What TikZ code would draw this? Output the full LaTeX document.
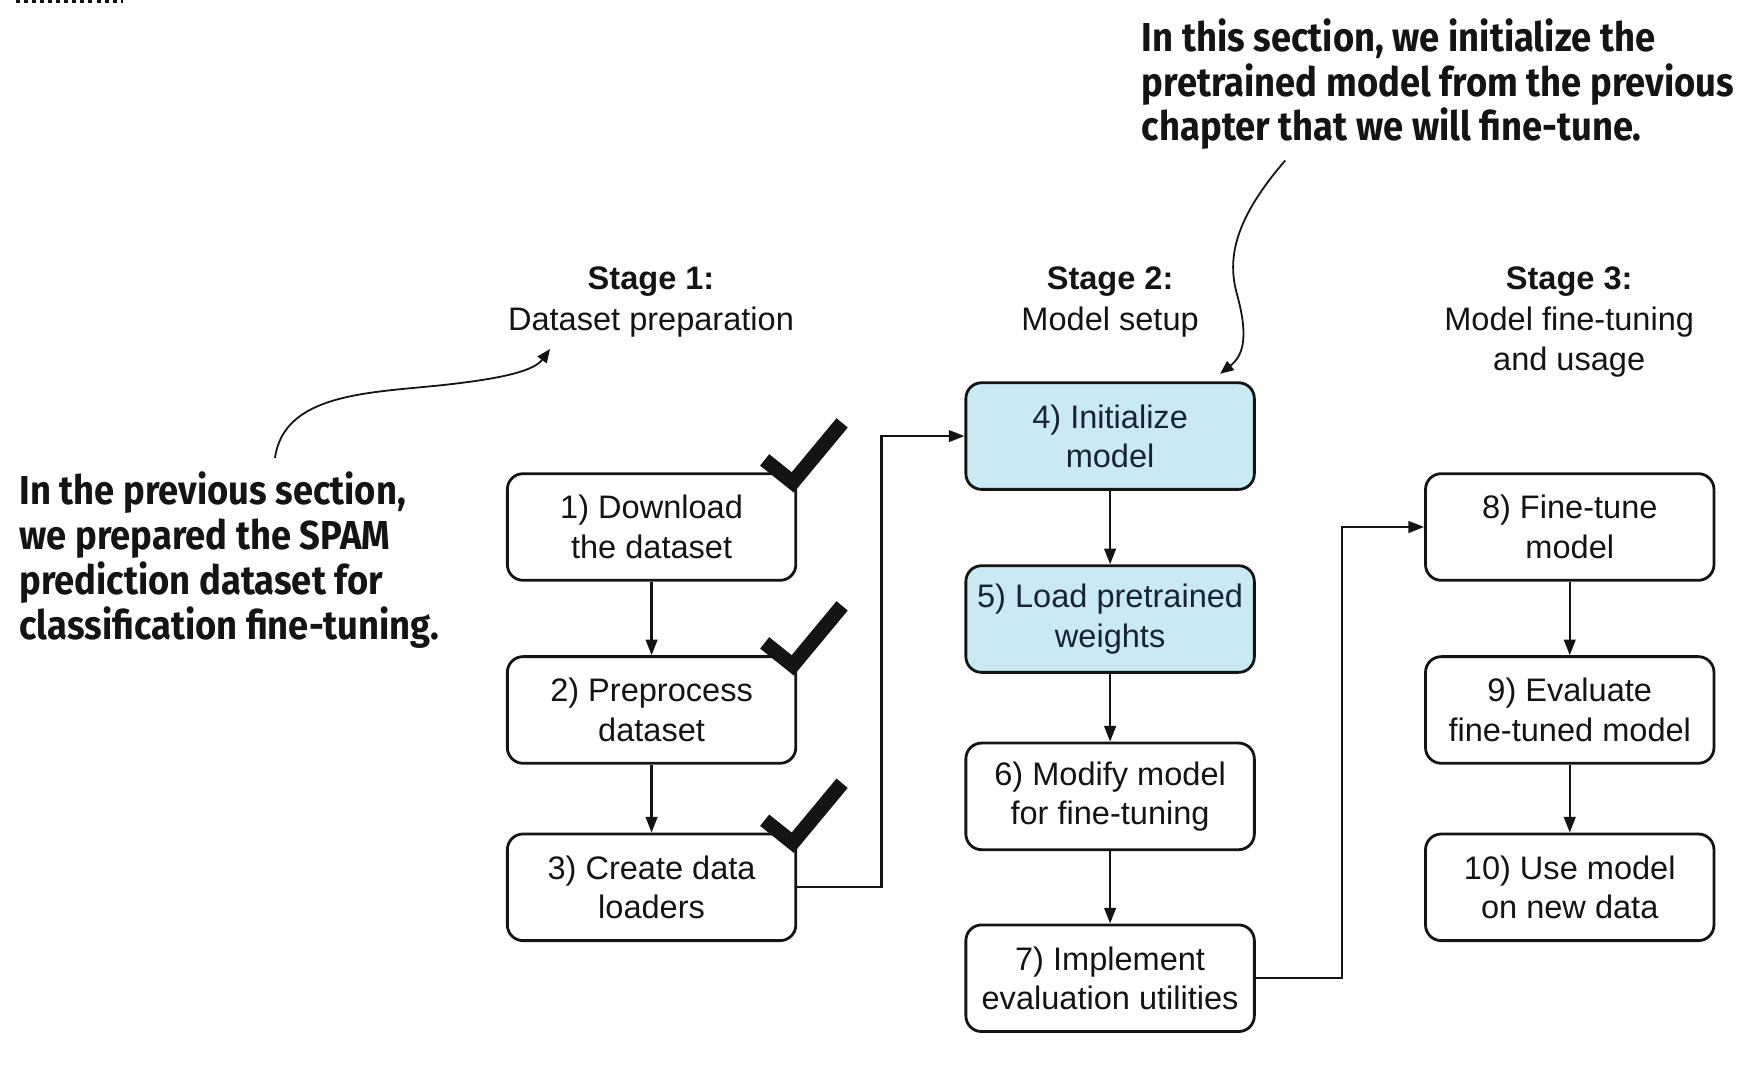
\documentclass[tikz,border=0pt]{standalone}
\usepackage{fontspec}
\setmainfont{Liberation Sans}
\newfontfamily\annfont[FakeStretch=0.9]{Fira Sans}
\usetikzlibrary{arrows.meta,calc}
\definecolor{boxblue}{RGB}{201,234,243}
\definecolor{ink}{RGB}{20,20,20}
\begin{document}
\begin{tikzpicture}[x=0.5pt,y=-0.5pt,
  stepbox/.style={draw=ink, rounded corners=7pt, line width=1.25pt, minimum width=128.5pt, minimum height=47.5pt, align=center, font=\fontsize{14.5}{17.5}\selectfont, inner sep=0pt, text=ink},
  bluebox/.style={stepbox, fill=boxblue, text={rgb,255:red,25;green,35;blue,55}},
  arr/.style={draw=ink, line width=1pt, -{Triangle[length=7pt,width=5.2pt]}},
  curvearr/.style={draw=ink, line width=0.8pt, -{Triangle[length=6pt,width=5pt]}},
  checkmark/.style={draw=ink, line width=6.5pt, line join=miter},
  stagehead/.style={align=center, font=\fontsize{14.5}{18}\selectfont, inner sep=0pt, text=ink},
  annot/.style={align=left, font={\annfont\bfseries\fontsize{18}{20}\selectfont}, inner sep=0pt, text=ink}
]
\fill[white] (0,0) rectangle (1568,964);
\useasboundingbox (0,0) rectangle (1568,964);

% crop artefact at top left
\draw[ink, line width=1.5pt, dash pattern=on 1.8pt off 1.8pt] (14,1) -- (110,1);

% stage headers
\node[stagehead] (s1) at (580,269) {\textbf{Stage 1:}\\Dataset preparation};
\node[stagehead] (s2) at (989,269) {\textbf{Stage 2:}\\Model setup};
\node[stagehead] (s3) at (1398,287) {\textbf{Stage 3:}\\Model fine-tuning\\and usage};

% boxes
\node[stepbox] (b1) at (580.5,469.5) {1) Download\\the dataset};
\node[stepbox] (b2) at (580.5,632.5) {2) Preprocess\\dataset};
\node[stepbox] (b3) at (580.5,790.5) {3) Create data\\loaders};
\node[bluebox] (b4) at (989,388.5) {4) Initialize\\model};
\node[bluebox] (b5) at (989,551.5) {5) Load pretrained\\weights};
\node[stepbox] (b6) at (989,709.5) {6) Modify model\\for fine-tuning};
\node[stepbox] (b7) at (989,871.5) {7) Implement\\evaluation utilities};
\node[stepbox] (b8) at (1398.5,469.5) {8) Fine-tune\\model};
\node[stepbox] (b9) at (1398.5,632.5) {9) Evaluate\\fine-tuned model};
\node[stepbox] (b10) at (1398.5,790.5) {10) Use model\\on new data};

% connectors
\draw[arr] (b1) -- (b2);
\draw[arr] (b2) -- (b3);
\draw[arr] (b4) -- (b5);
\draw[arr] (b5) -- (b6);
\draw[arr] (b6) -- (b7);
\draw[arr] (b8) -- (b9);
\draw[arr] (b9) -- (b10);
\draw[arr] (b3.east) -- ++(75,0) |- (b4.west);
\draw[arr] (b7.east) -- ++(77,0) |- (b8.west);

% check marks
\foreach \b in {b1,b2,b3}{
  \draw[checkmark] ([shift={(-29,-11)}]\b.north east) -- ([shift={(-4,9)}]\b.north east) -- ([shift={(40,-44)}]\b.north east);
}

% annotations
\node[annot, anchor=west] (al) at (17,499) {In the previous section,\\we prepared the SPAM\\prediction dataset for\\classification fine-tuning.};
\node[annot, anchor=west] (ar) at (1017,75) {In this section, we initialize the\\pretrained model from the previous\\chapter that we will fine-tune.};

\coordinate (alstart) at (245,408);
\coordinate (altip) at (490,311);
\coordinate (arstart) at (1145,143);
\coordinate (artip) at (1087,333);
\draw[curvearr] (alstart) .. controls (253,350) and (330,350) .. (395,343) .. controls (450,337) and (476,330) .. (altip);
\draw[curvearr] (arstart) .. controls (1100,195) and (1093,230) .. (1102,262) .. controls (1111,295) and (1110,315) .. (artip);
\end{tikzpicture}
\end{document}
